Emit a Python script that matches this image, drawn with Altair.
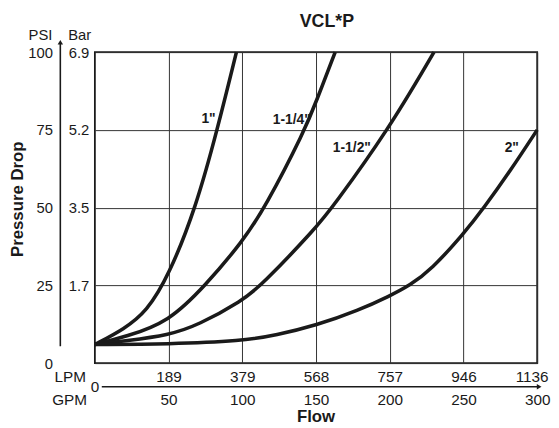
import altair as alt
import pandas as pd

# ---------------- data ----------------
sizes = ['1"', '1-1/4"', '1-1/2"', '2"']

q_1 = [0, 20, 35, 50, 68.5, 83, 96]
p_1 = [6, 11, 16.5, 28, 50, 75, 100]

q_114 = [0, 21, 50, 75, 100, 115.4, 142.5, 150, 163]
p_114 = [6, 8.5, 13.2, 25, 39, 50, 75, 84, 100]

q_112 = [0, 21, 50, 70, 100, 113, 150, 161, 199, 230]
p_112 = [6, 7.2, 9, 12.2, 20.1, 25, 43.5, 50, 75, 100]

q_2 = [0, 50, 100, 123, 150, 179, 200, 213.6, 228, 250, 264, 282, 300]
p_2 = [6, 6.1, 7.1, 9, 12.1, 17, 21.6, 25, 30, 41.5, 50, 62, 75]

label_q = [81.9, 146.5, 187.2, 287.6]
label_p = [78.5, 78.1, 69.2, 69.0]

gpm_ticks = [50, 100, 150, 200, 250, 300]
lpm_labels = ['189', '379', '568', '757', '946', '1136']
psi_ticks = [0, 25, 50, 75, 100]
bar_ticks = [25, 50, 75, 100]
bar_labels = ['1.7', '3.5', '5.2', '6.9']

# ---------------- tables ----------------
rows = []
for name, qs, ps in zip(sizes, [q_1, q_114, q_112, q_2], [p_1, p_114, p_112, p_2]):
    for q, p in zip(qs, ps):
        rows.append({'size': name, 'gpm': q, 'psi': p})
curves_df = pd.DataFrame(rows)
labels_df = pd.DataFrame({'label': sizes, 'gpm': label_q, 'psi': label_p})


def map_expr(keys, vals):
    expr = "''"
    for k, v in reversed(list(zip(keys, vals))):
        expr = f"datum.value == {k} ? '{v}' : {expr}"
    return expr


FONT = 'Liberation Sans'
INK = '#1a1a1a'

x_scale = alt.Scale(domain=[0, 300], nice=False, zero=False)
y_scale = alt.Scale(domain=[0, 100], nice=False, zero=False)

curves = alt.Chart(curves_df).mark_line(
    color=INK, strokeWidth=3.6, interpolate='basis'
).encode(
    x=alt.X('gpm:Q', scale=x_scale, axis=alt.Axis(
        orient='bottom', values=gpm_ticks, title=None, grid=True,
        gridColor='#333333', gridWidth=1, gridOpacity=1,
        ticks=False, tickSize=0, domain=False, labelFlush=False,
        labelPadding=37, labelBaseline='middle', labelFontSize=15.5,
        labelFont=FONT, labelColor=INK)),
    y=alt.Y('psi:Q', scale=y_scale, axis=alt.Axis(
        orient='left', values=psi_ticks, title=None, grid=True,
        gridColor='#333333', gridWidth=1, gridOpacity=1,
        ticks=False, tickSize=0, domain=False, labelFlush=False,
        labelPadding=43, labelAlign='right', labelBaseline='middle',
        labelFontSize=15, labelFont=FONT, labelColor=INK)),
    detail='size:N',
)

labels = alt.Chart(labels_df).mark_text(
    align='right', baseline='middle', fontSize=14, fontWeight='bold',
    font=FONT, color=INK
).encode(
    x=alt.X('gpm:Q', scale=x_scale, axis=alt.Axis(
        orient='bottom', values=gpm_ticks, title=None, grid=False,
        ticks=False, tickSize=0, domain=False,
        labelExpr=map_expr(gpm_ticks, lpm_labels),
        labelFlush=True, labelFlushOffset=11,
        labelPadding=14, labelBaseline='middle', labelFontSize=15.5,
        labelFont=FONT, labelColor=INK)),
    y=alt.Y('psi:Q', scale=y_scale, axis=alt.Axis(
        orient='left', values=bar_ticks, title=None, grid=False,
        ticks=False, tickSize=0, domain=False, labelFlush=False,
        labelExpr=map_expr(bar_ticks, bar_labels),
        labelPadding=27, labelAlign='left', labelBaseline='middle',
        labelFontSize=15, labelFont=FONT, labelColor=INK)),
    text='label:N',
)

one = pd.DataFrame({'k': [0]})


def deco_text(txt, x, y, align='center', size=15, weight='normal', angle=0):
    return alt.Chart(one).mark_text(
        align=align, baseline='middle', fontSize=size, fontWeight=weight,
        font=FONT, color=INK, angle=angle
    ).encode(x=alt.value(x), y=alt.value(y), text=alt.value(txt))


y_arrow = alt.Chart(one).mark_rule(color=INK, strokeWidth=1.6).encode(
    x=alt.value(-35), y=alt.value(-9), y2=alt.value(298))
y_head = alt.Chart(one).mark_point(
    shape='triangle-up', filled=True, size=30, color=INK, opacity=1
).encode(x=alt.value(-35), y=alt.value(-10))
x_arrow = alt.Chart(one).mark_rule(color=INK, strokeWidth=1.6).encode(
    x=alt.value(7), x2=alt.value(449), y=alt.value(339))
x_head = alt.Chart(one).mark_point(
    shape='triangle-right', filled=True, size=30, color=INK, opacity=1
).encode(x=alt.value(450), y=alt.value(339))

decos = [
    deco_text('PSI', -43, -17, align='right'),
    deco_text('Bar', -27, -17, align='left'),
    deco_text('LPM', -9, 329, align='right', size=15.5),
    deco_text('GPM', -8, 352, align='right', size=15.5),
    deco_text('0', 0, 339, size=15.5),
    deco_text('Flow', 224, 370, size=17, weight='bold'),
    deco_text('Pressure Drop', -77.5, 149, size=17, weight='bold', angle=270),
]

chart = alt.layer(
    curves, labels, y_arrow, y_head, x_arrow, x_head, *decos
).resolve_axis(
    x='independent', y='independent'
).properties(
    width=448, height=315,
    padding={'left': 88, 'top': 42, 'right': 14, 'bottom': 61},
    autosize=alt.AutoSizeParams(type='none'),
    title=alt.TitleParams('VCL*P', fontSize=18, fontWeight='bold', font=FONT,
                          color=INK, anchor='middle', frame='group', dx=11,
                          offset=-3),
).configure_view(
    stroke=INK, strokeWidth=1.8
)

chart.save('out.html', embed_options={'renderer': 'svg', 'actions': False})
